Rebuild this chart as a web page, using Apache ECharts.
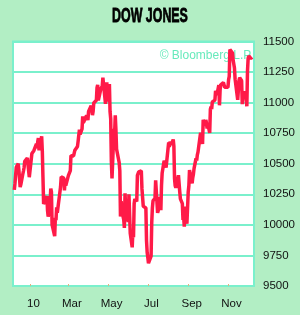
<!DOCTYPE html>
<html>
<head>
<meta charset="utf-8">
<script src="https://cdn.jsdelivr.net/npm/echarts@6/dist/echarts.min.js"></script>
<style>
html,body{margin:0;padding:0;background:#b2eec4;}
#c{width:300px;height:315px;}
</style>
</head>
<body>
<div id="c"></div>
<script>
// ---- data (DJIA daily closes) ----
const dates = [
"2009-12-08","2009-12-09","2009-12-10","2009-12-11","2009-12-14","2009-12-15","2009-12-16","2009-12-17","2009-12-18","2009-12-21","2009-12-22","2009-12-23","2009-12-24","2009-12-28","2009-12-29","2009-12-30","2009-12-31",
"2010-01-04","2010-01-05","2010-01-06","2010-01-07","2010-01-08","2010-01-11","2010-01-12","2010-01-13","2010-01-14","2010-01-15","2010-01-19","2010-01-20","2010-01-21","2010-01-22","2010-01-25","2010-01-26","2010-01-27","2010-01-28","2010-01-29",
"2010-02-01","2010-02-02","2010-02-03","2010-02-04","2010-02-05","2010-02-08","2010-02-09","2010-02-10","2010-02-11","2010-02-12","2010-02-16","2010-02-17","2010-02-18","2010-02-19","2010-02-22","2010-02-23","2010-02-24","2010-02-25","2010-02-26",
"2010-03-01","2010-03-02","2010-03-03","2010-03-04","2010-03-05","2010-03-08","2010-03-09","2010-03-10","2010-03-11","2010-03-12","2010-03-15","2010-03-16","2010-03-17","2010-03-18","2010-03-19","2010-03-22","2010-03-23","2010-03-24","2010-03-25","2010-03-26","2010-03-29","2010-03-30","2010-03-31",
"2010-04-01","2010-04-05","2010-04-06","2010-04-07","2010-04-08","2010-04-09","2010-04-12","2010-04-13","2010-04-14","2010-04-15","2010-04-16","2010-04-19","2010-04-20","2010-04-21","2010-04-22","2010-04-23","2010-04-26","2010-04-27","2010-04-28","2010-04-29","2010-04-30",
"2010-05-03","2010-05-04","2010-05-05","2010-05-06","2010-05-07","2010-05-10","2010-05-11","2010-05-12","2010-05-13","2010-05-14","2010-05-17","2010-05-18","2010-05-19","2010-05-20","2010-05-21","2010-05-24","2010-05-25","2010-05-26","2010-05-27","2010-05-28",
"2010-06-01","2010-06-02","2010-06-03","2010-06-04","2010-06-07","2010-06-08","2010-06-09","2010-06-10","2010-06-11","2010-06-14","2010-06-15","2010-06-16","2010-06-17","2010-06-18","2010-06-21","2010-06-22","2010-06-23","2010-06-24","2010-06-25","2010-06-28","2010-06-29","2010-06-30",
"2010-07-01","2010-07-02","2010-07-06","2010-07-07","2010-07-08","2010-07-09","2010-07-12","2010-07-13","2010-07-14","2010-07-15","2010-07-16","2010-07-19","2010-07-20","2010-07-21","2010-07-22","2010-07-23","2010-07-26","2010-07-27","2010-07-28","2010-07-29","2010-07-30",
"2010-08-02","2010-08-03","2010-08-04","2010-08-05","2010-08-06","2010-08-09","2010-08-10","2010-08-11","2010-08-12","2010-08-13","2010-08-16","2010-08-17","2010-08-18","2010-08-19","2010-08-20","2010-08-23","2010-08-24","2010-08-25","2010-08-26","2010-08-27","2010-08-30","2010-08-31",
"2010-09-01","2010-09-02","2010-09-03","2010-09-07","2010-09-08","2010-09-09","2010-09-10","2010-09-13","2010-09-14","2010-09-15","2010-09-16","2010-09-17","2010-09-20","2010-09-21","2010-09-22","2010-09-23","2010-09-24","2010-09-27","2010-09-28","2010-09-29","2010-09-30",
"2010-10-01","2010-10-04","2010-10-05","2010-10-06","2010-10-07","2010-10-08","2010-10-11","2010-10-12","2010-10-13","2010-10-14","2010-10-15","2010-10-18","2010-10-19","2010-10-20","2010-10-21","2010-10-22","2010-10-25","2010-10-26","2010-10-27","2010-10-28","2010-10-29",
"2010-11-01","2010-11-02","2010-11-03","2010-11-04","2010-11-05","2010-11-08","2010-11-09","2010-11-10","2010-11-11","2010-11-12","2010-11-15","2010-11-16","2010-11-17","2010-11-18","2010-11-19","2010-11-22","2010-11-23","2010-11-24","2010-11-26","2010-11-29","2010-11-30",
"2010-12-01","2010-12-02","2010-12-03","2010-12-06","2010-12-07","2010-12-08","2010-12-09"
];
const closes = [
10286,10337,10405,10471,10501,10452,10442,10309,10329,10414,10440,10467,10520,10547,10545,10548,10390,
10584,10572,10574,10607,10618,10663,10627,10681,10710,10610,10725,10603,10389,10172,10196,10194,10236,10120,10067,
10185,10296,10270,10002,10012,9908,10058,10038,10144,10099,10268,10309,10392,10402,10383,10282,10374,10321,10325,
10403,10405,10396,10444,10566,10552,10564,10567,10611,10625,10642,10685,10733,10779,10741,10785,10888,10836,10841,10850,10895,10907,10857,
10927,10974,10969,10898,10928,10997,11006,11019,11123,11145,11019,11092,11117,11124,11134,11205,11205,10991,11045,11167,11009,
11152,10926,10868,10520,10380,10785,10749,10897,10782,10620,10625,10510,10444,10068,10193,10067,10043,9975,10259,10137,
10025,10250,10256,9932,9816,9940,9899,10173,10212,10191,10405,10410,10434,10450,10442,10294,10298,10152,10144,10139,9870,9774,
9732,9686,9744,10018,10139,10198,10216,10364,10367,10359,10098,10154,10230,10121,10322,10425,10525,10537,10498,10468,10466,
10674,10636,10680,10675,10654,10698,10644,10379,10320,10303,10302,10406,10416,10271,10213,10174,10040,10060,9985,10150,10009,10014,
10269,10320,10448,10340,10387,10415,10462,10544,10526,10573,10595,10607,10753,10761,10739,10662,10860,10812,10858,10835,10788,
10830,10752,10944,10967,10948,11006,11010,11021,11096,11094,11062,11143,10978,11107,11146,11132,11164,11169,11126,11113,11118,
11125,11188,11215,11434,11445,11406,11346,11357,11283,11192,11201,11023,11008,11182,11204,11179,10988,11037,11092,11052,10970,
11255,11362,11382,11362,11359,11372,11370
];
const xStart = "2009-12-06";
const xEnd = "2010-12-11";
const tickDates = ["2010-01-01","2010-03-01","2010-05-01","2010-07-01","2010-09-01","2010-11-01"];
const tickLabels = ["10","Mar","May","Jul","Sep","Nov"];
const yMin = 9500, yMax = 11500, yStep = 250;
const titleText = "DOW JONES";
const creditText = "\u00A9 Bloomberg L.P.";

// ---- chart ----
const tickTimes = tickDates.map(d => Date.parse(d));
const seriesData = dates.map((d, i) => [Date.parse(d), closes[i]]);
const aqua = '#7af0cc';
const labelFont = 'Liberation Sans';

const chart = echarts.init(document.getElementById('c'), null, {renderer: 'canvas'});
chart.setOption({
  backgroundColor: '#b2eec4',
  animation: false,
  grid: {left: 13, right: 46, top: 41.5, bottom: 29, show: true,
         backgroundColor: '#ffffff', borderColor: aqua, borderWidth: 2},
  xAxis: {
    type: 'value', min: Date.parse(xStart), max: Date.parse(xEnd),
    axisLine: {show: false},
    splitLine: {show: false},
    axisTick: {show: true, inside: true, length: 2, customValues: tickTimes,
               lineStyle: {color: '#e0b080', width: 1}},
    axisLabel: {customValues: tickTimes, margin: 12, color: '#111',
                fontFamily: labelFont, fontSize: 11.5, padding: [0, 0, 0, 7],
                formatter: v => { const i = tickTimes.indexOf(v); return i >= 0 ? tickLabels[i] : ''; }}
  },
  yAxis: {
    type: 'value', position: 'right', min: yMin, max: yMax, interval: yStep,
    axisLine: {show: false}, axisTick: {show: false},
    splitLine: {show: true, lineStyle: {color: aqua, width: 2}},
    axisLabel: {margin: 9, color: '#111', fontFamily: labelFont, fontSize: 11.5,
                formatter: v => String(v)}
  },
  graphic: [
    {type: 'text', x: 150, y: 6, scaleX: 0.62,
     style: {text: titleText, fill: '#000', stroke: '#000', lineWidth: 0.8,
             font: 'bold 20px "Liberation Sans"', align: 'center', verticalAlign: 'top'}},
    {type: 'text', right: 47, top: 50, z: 0,
     style: {text: creditText, fill: '#66eabb', font: '12px "Liberation Sans"'}}
  ],
  series: [{
    type: 'line', data: seriesData, showSymbol: false, z: 5,
    lineStyle: {color: '#ff1a48', width: 3.5}
  }]
});
</script>
</body>
</html>
